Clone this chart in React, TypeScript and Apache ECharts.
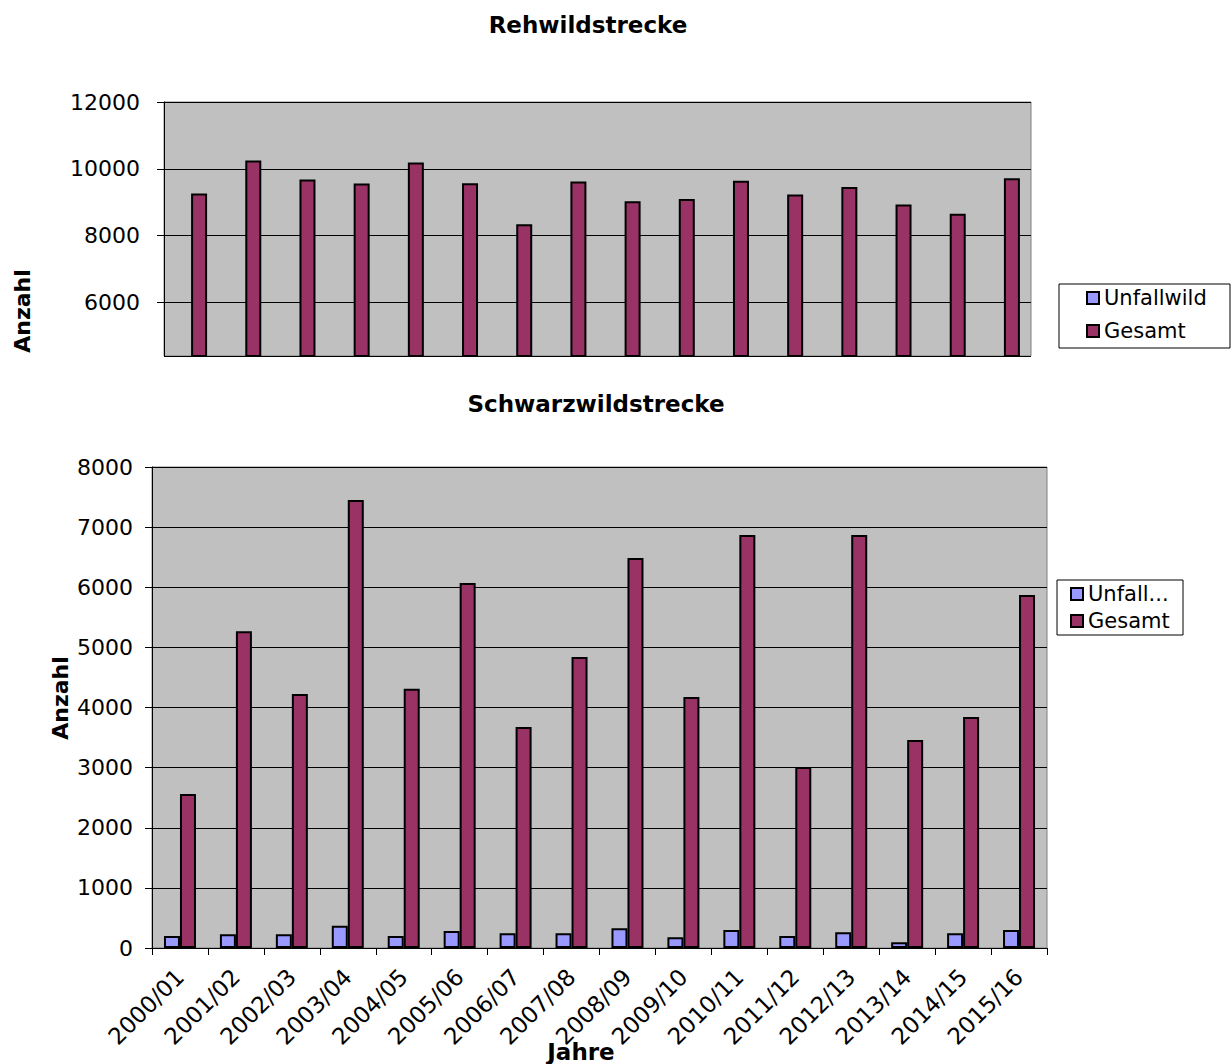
import React, { useEffect, useRef } from "react";
import * as echarts from "echarts";

const categories = [
  "2000/01", "2001/02", "2002/03", "2003/04", "2004/05", "2005/06", "2006/07", "2007/08",
  "2008/09", "2009/10", "2010/11", "2011/12", "2012/13", "2013/14", "2014/15", "2015/16",
];

// Rehwildstrecke (only "Gesamt" visible; Unfallwild lies below the visible range)
const rehUnfallwild: (number | null)[] = categories.map(() => null);
const rehGesamt = [9260, 10250, 9680, 9560, 10190, 9570, 8340, 9620, 9030, 9100, 9640, 9230, 9460, 8930, 8660, 9720];

// Schwarzwildstrecke
const schwarzUnfallwild = [200, 228, 228, 371, 200, 283, 244, 244, 328, 178, 300, 200, 261, 95, 244, 300];
const schwarzGesamt = [2560, 5270, 4225, 7450, 4310, 6070, 3675, 4840, 6485, 4175, 6870, 3010, 6870, 3460, 3840, 5870];

const FONT = "'DejaVu Sans', sans-serif";
const C_UNFALL = "#9999FF";
const C_GESAMT = "#993366";

export default function App() {
  const ref = useRef<HTMLDivElement>(null);
  useEffect(() => {
    if (!ref.current) return;
    const chart = echarts.init(ref.current, null, { renderer: "svg" });
    const barStyle = (color: string) => ({ color, borderColor: "#000", borderWidth: 2 });
    const yAxisCommon = {
      type: "value" as const,
      axisLine: { show: true, lineStyle: { color: "#000", width: 1 } },
      axisTick: { show: true, length: 7, lineStyle: { color: "#000" } },
      splitLine: { show: true, lineStyle: { color: "#000", width: 1 } },
      axisLabel: { color: "#000", fontSize: 22, fontFamily: FONT, formatter: (v: number) => String(v) },
    };
    chart.setOption({
      animation: false,
      backgroundColor: "#fff",
      textStyle: { fontFamily: FONT },
      grid: [
        {
          left: 164, right: 200, top: 102, height: 254,
          show: true, backgroundColor: "#C0C0C0", borderColor: "#808080", borderWidth: 1,
        },
        {
          left: 152, right: 184, top: 467, bottom: 116,
          show: true, backgroundColor: "#C0C0C0", borderColor: "#808080", borderWidth: 1,
        },
      ],
      xAxis: [
        {
          type: "category", gridIndex: 0, data: categories,
          axisLine: { show: false }, axisTick: { show: false }, axisLabel: { show: false },
        },
        {
          type: "category", gridIndex: 1, data: categories,
          axisLine: { show: true, lineStyle: { color: "#000", width: 1 } },
          axisTick: { show: true, length: 7, alignWithLabel: false, lineStyle: { color: "#000" } },
          axisLabel: { interval: 0, rotate: 45, color: "#000", fontSize: 23, fontFamily: FONT, margin: 25 },
        },
      ],
      yAxis: [
        {
          ...yAxisCommon, gridIndex: 0, min: 4400, max: 12000,
          axisLabel: { ...yAxisCommon.axisLabel, margin: 24, showMinLabel: false },
        },
        {
          ...yAxisCommon, gridIndex: 1, min: 0, max: 8000, interval: 1000,
          axisLabel: { ...yAxisCommon.axisLabel, margin: 19 },
        },
      ],
      legend: [
        {
          left: 1086, top: 286, orient: "vertical", padding: 0, itemGap: 9,
          itemWidth: 12, itemHeight: 12, icon: "rect",
          data: ["Unfallwild", "Gesamt"],
          textStyle: { fontSize: 21, fontFamily: FONT, color: "#000", lineHeight: 24 },
        },
        {
          left: 1070, top: 582, orient: "vertical", padding: 0, itemGap: 3,
          itemWidth: 12, itemHeight: 12, icon: "rect",
          data: ["Unfallwild", "Gesamt"],
          formatter: (name: string) => (name === "Unfallwild" ? "Unfall..." : name),
          textStyle: { fontSize: 21, fontFamily: FONT, color: "#000", lineHeight: 24 },
        },
      ],
      graphic: [
        { type: "rect", z: 0, shape: { x: 1059, y: 284, width: 171, height: 64 }, style: { fill: "#fff", stroke: "#000", lineWidth: 1 } },
        { type: "rect", z: 0, shape: { x: 1057, y: 580, width: 126, height: 55 }, style: { fill: "#fff", stroke: "#000", lineWidth: 1 } },
        {
          type: "text", x: 588, y: 25,
          style: { text: "Rehwildstrecke", font: `bold 23px ${FONT}`, fill: "#000", align: "center", verticalAlign: "middle", textAlign: "center", textVerticalAlign: "middle" },
        },
        {
          type: "text", x: 596, y: 404,
          style: { text: "Schwarzwildstrecke", font: `bold 23px ${FONT}`, fill: "#000", align: "center", verticalAlign: "middle", textAlign: "center", textVerticalAlign: "middle" },
        },
        {
          type: "text", x: 22, y: 311, rotation: Math.PI / 2,
          style: { text: "Anzahl", font: `bold 22px ${FONT}`, fill: "#000", align: "center", verticalAlign: "middle", textAlign: "center", textVerticalAlign: "middle" },
        },
        {
          type: "text", x: 60, y: 698, rotation: Math.PI / 2,
          style: { text: "Anzahl", font: `bold 22px ${FONT}`, fill: "#000", align: "center", verticalAlign: "middle", textAlign: "center", textVerticalAlign: "middle" },
        },
        {
          type: "text", x: 581, y: 1052, z: 10,
          style: { text: "Jahre", font: `bold 23px ${FONT}`, fill: "#000", align: "center", verticalAlign: "middle", textAlign: "center", textVerticalAlign: "middle" },
        },
      ],
      series: [
        { name: "Unfallwild", type: "bar", xAxisIndex: 0, yAxisIndex: 0, data: rehUnfallwild, barWidth: 16, barGap: "0%", itemStyle: barStyle(C_UNFALL) },
        { name: "Gesamt", type: "bar", xAxisIndex: 0, yAxisIndex: 0, data: rehGesamt, barWidth: 16, barGap: "0%", itemStyle: barStyle(C_GESAMT) },
        { name: "Unfallwild", type: "bar", xAxisIndex: 1, yAxisIndex: 1, data: schwarzUnfallwild, barWidth: 16, barGap: "0%", itemStyle: barStyle(C_UNFALL) },
        { name: "Gesamt", type: "bar", xAxisIndex: 1, yAxisIndex: 1, data: schwarzGesamt, barWidth: 16, barGap: "0%", itemStyle: barStyle(C_GESAMT) },
      ],
    });
    return () => chart.dispose();
  }, []);
  return <div ref={ref} style={{ position: "absolute", left: 0, top: 0, width: 1231, height: 1064 }} />;
}
